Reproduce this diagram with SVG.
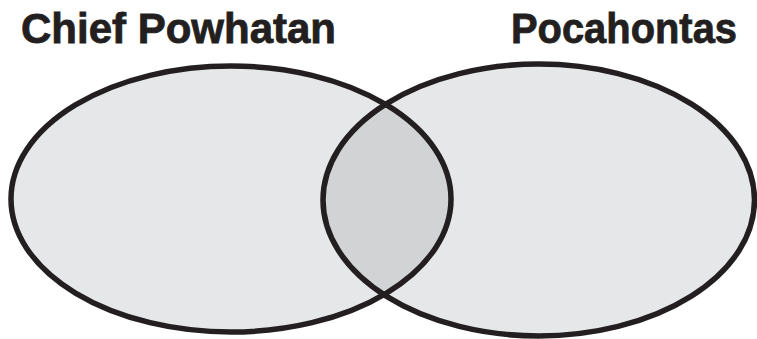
<svg xmlns="http://www.w3.org/2000/svg" width="757" height="339" viewBox="0 0 757 339">
  <style>
    .set { fill: #e6e7e8; stroke: none; }
    .outline { fill: none; stroke: #231f20; stroke-width: 5.5; }
    .overlap { fill: #d1d3d4; stroke: none; }
    .title { font-family: "Liberation Sans", Arial, sans-serif; font-weight: bold; font-size: 42px; fill: #231f20; stroke: #231f20; stroke-width: 0.8; }
  </style>
  <defs>
    <clipPath id="clipLeft">
      <ellipse cx="231" cy="199" rx="220" ry="133"/>
    </clipPath>
  </defs>
  <rect width="757" height="339" fill="#ffffff"/>
  <g id="set-left">
    <ellipse class="set" cx="231" cy="199" rx="220" ry="133"/>
  </g>
  <g id="set-right">
    <ellipse class="set" cx="538.75" cy="200" rx="215.75" ry="136"/>
  </g>
  <g id="overlap">
    <ellipse class="overlap" cx="538.75" cy="200" rx="215.75" ry="136" clip-path="url(#clipLeft)"/>
  </g>
  <g id="outlines">
    <ellipse class="outline" cx="231" cy="199" rx="220" ry="133"/>
    <ellipse class="outline" cx="538.75" cy="200" rx="215.75" ry="136"/>
  </g>
  <g id="label-left">
    <text class="title" x="21" y="43" textLength="315" lengthAdjust="spacingAndGlyphs">Chief Powhatan</text>
  </g>
  <g id="label-right">
    <text class="title" x="511" y="43" textLength="226" lengthAdjust="spacingAndGlyphs">Pocahontas</text>
  </g>
</svg>
